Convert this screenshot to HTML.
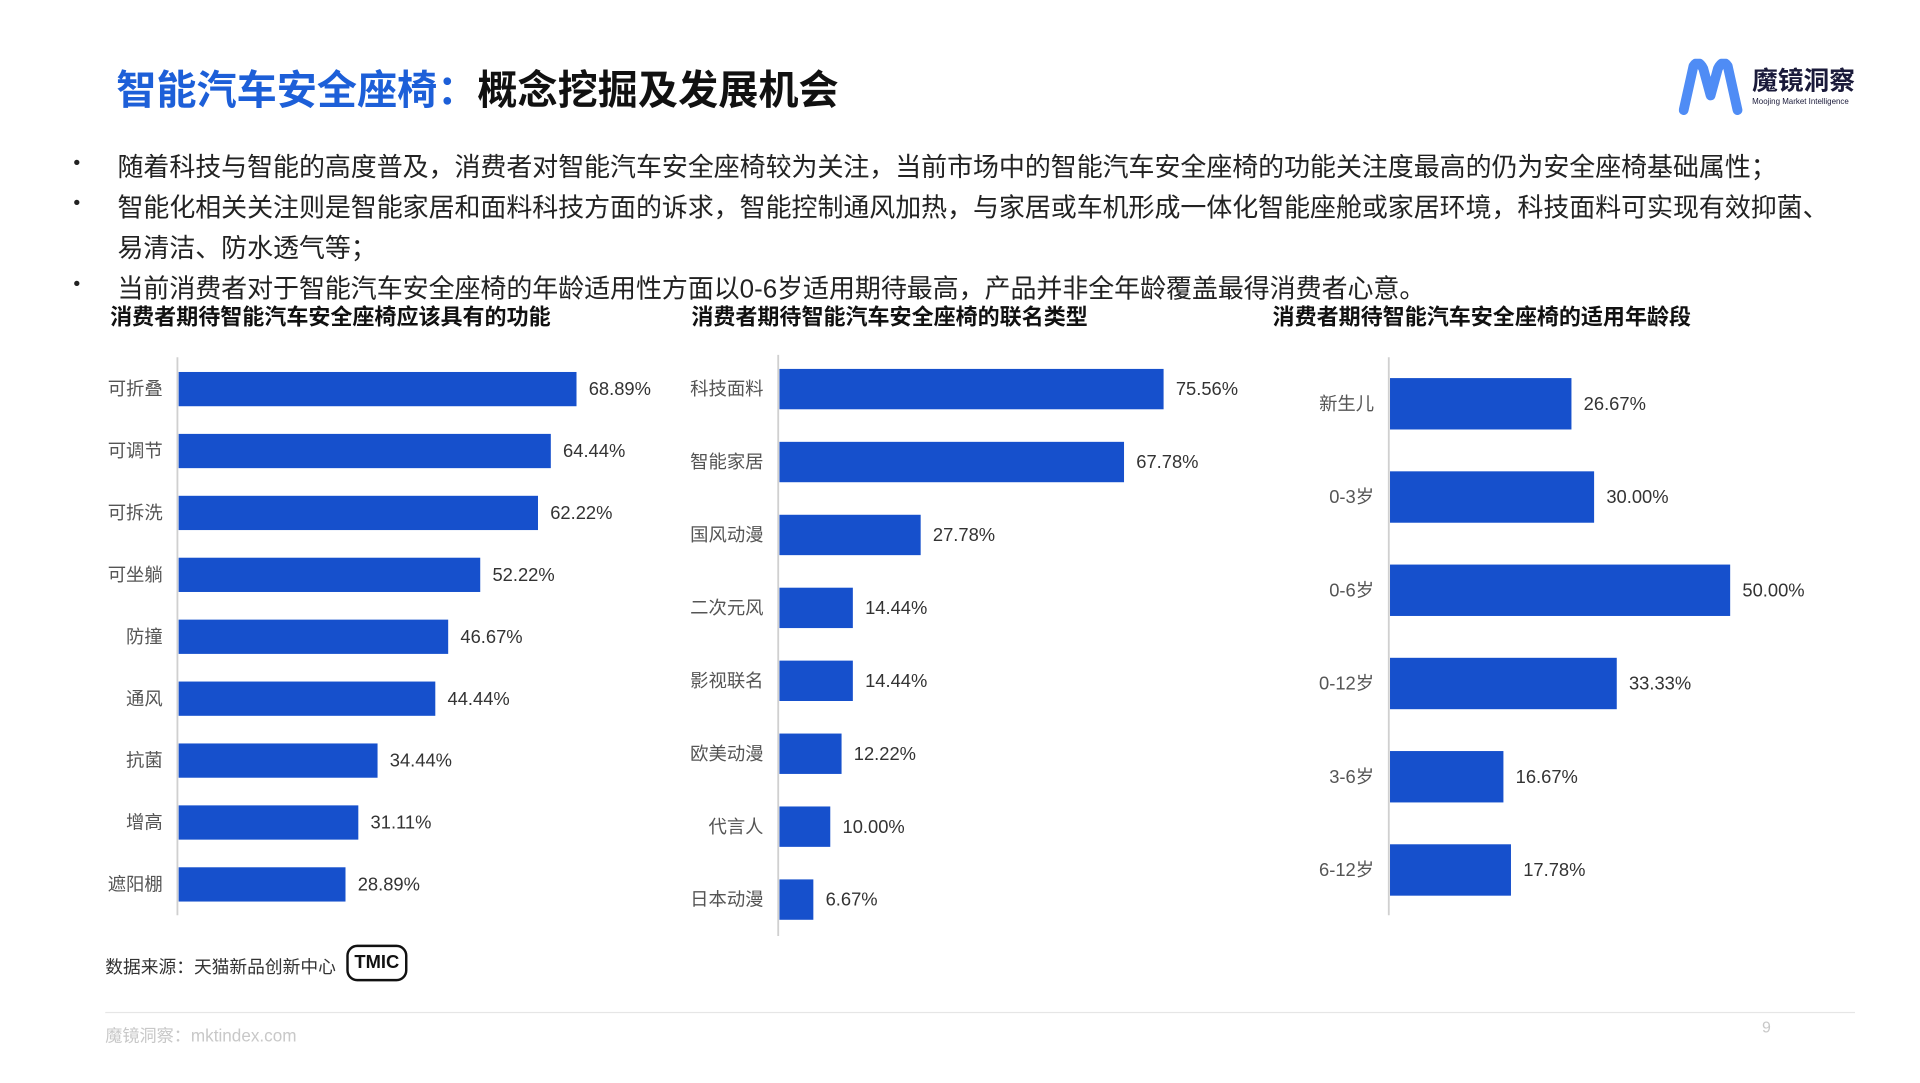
<!DOCTYPE html>
<html><head><meta charset="utf-8">
<style>
*{margin:0;padding:0;box-sizing:border-box}
html,body{width:1920px;height:1080px;overflow:hidden;background:#fff}
body{font-family:"Liberation Sans","Noto Sans CJK SC",sans-serif;color:#222}
#wrap{position:absolute;left:0;top:0;width:1570px;height:885px;transform:scale(1.2236);transform-origin:0 0}
.abs{position:absolute;white-space:nowrap}
.title{left:95px;top:48px;font-size:32.8px;font-weight:bold}
.bul{font-size:21.2px;color:#222}
.dot{font-size:16px}
.ct{font-size:18px;font-weight:bold;top:245px;color:#111}
svg text{font-family:"Liberation Sans","Noto Sans CJK SC",sans-serif}
</style></head><body>
<div id="wrap">
<div class="abs title"><span style="color:#1d5fd8">智能汽车安全座椅：</span><span style="color:#111">概念挖掘及发展机会</span></div>
<div class="abs" style="left:1372px;top:48px">
<svg width="150" height="46"><path d="M4 42 L12 6 Q16 0 20 8 L26 30 L32 8 Q36 0 40 6 L48 42" fill="none" stroke="#4f8cf5" stroke-width="8" stroke-linecap="round" stroke-linejoin="round"/>
<text x="60" y="25" font-size="21" font-weight="bold" fill="#1a1a3a">魔镜洞察</text>
<text x="60" y="37" font-size="6.5" fill="#1a1a3a">Moojing Market Intelligence</text></svg></div>
<div class="abs dot" style="left:60px;top:125px">•</div>
<div class="abs bul" style="left:96px;top:120px">随着科技与智能的高度普及，消费者对智能汽车安全座椅较为关注，当前市场中的智能汽车安全座椅的功能关注度最高的仍为安全座椅基础属性；</div>
<div class="abs dot" style="left:60px;top:158px">•</div>
<div class="abs bul" style="left:96px;top:153px">智能化相关关注则是智能家居和面料科技方面的诉求，智能控制通风加热，与家居或车机形成一体化智能座舱或家居环境，科技面料可实现有效抑菌、</div>
<div class="abs bul" style="left:96px;top:186px">易清洁、防水透气等；</div>
<div class="abs dot" style="left:60px;top:224px">•</div>
<div class="abs bul" style="left:96px;top:219px">当前消费者对于智能汽车安全座椅的年龄适用性方面以0-6岁适用期待最高，产品并非全年龄覆盖最得消费者心意。</div>
<div class="abs ct" style="left:90px">消费者期待智能汽车安全座椅应该具有的功能</div>
<div class="abs ct" style="left:565px">消费者期待智能汽车安全座椅的联名类型</div>
<div class="abs ct" style="left:1040px">消费者期待智能汽车安全座椅的适用年龄段</div>
<svg class="abs" id="charts" style="left:0;top:0" width="1570" height="885"></svg>
<div class="abs" style="left:86px;top:779px;font-size:14.5px;color:#333">数据来源：天猫新品创新中心</div>
<div class="abs" style="left:283px;top:772px;width:50px;height:30px;border:2.5px solid #111;border-radius:9px;font-size:15px;font-weight:bold;text-align:center;line-height:26px;color:#111">TMIC</div>
<div class="abs" style="left:86px;top:827px;width:1430px;height:1px;background:#e6e6e6"></div>
<div class="abs" style="left:86px;top:836px;font-size:14px;color:#c8c8c8">魔镜洞察：mktindex.com</div>
<div class="abs" style="left:1440px;top:832px;font-size:13px;color:#c8c8c8">9</div>
</div>
<script>
const c1Cats=["可折叠","可调节","可拆洗","可坐躺","防撞","通风","抗菌","增高","遮阳棚"];
const c1Vals=[68.89,64.44,62.22,52.22,46.67,44.44,34.44,31.11,28.89];
const c2Cats=["科技面料","智能家居","国风动漫","二次元风","影视联名","欧美动漫","代言人","日本动漫"];
const c2Vals=[75.56,67.78,27.78,14.44,14.44,12.22,10.00,6.67];
const c3Cats=["新生儿","0-3岁","0-6岁","0-12岁","3-6岁","6-12岁"];
const c3Vals=[26.67,30.00,50.00,33.33,16.67,17.78];
const NS="http://www.w3.org/2000/svg";
const svg=document.getElementById('charts');
function mk(t,a){const e=document.createElementNS(NS,t);for(const k in a)e.setAttribute(k,a[k]);svg.appendChild(e);return e;}
function chart(id,cats,vals,ax,y0,y1,first,step,bh,ppu){
  const axis=mk('line',{x1:ax,x2:ax,y1:y0,y2:y1,stroke:'#d0d0d0','stroke-width':1.5});
  
  
  cats.forEach((c,i)=>{
    const cy=first+i*step, w=vals[i]*ppu;
    const r=mk('rect',{x:ax+1,y:cy-bh/2,width:w,height:bh,fill:'#1650cc'});
    
    
    const l=mk('text',{x:ax-12,y:cy+5,'text-anchor':'end','font-size':15,fill:'#555'});
    l.textContent=c;
    
    
    const v=mk('text',{x:ax+w+11,y:cy+5,'font-size':15,fill:'#333'});
    v.textContent=vals[i].toFixed(2)+'%';
    
    
  });
}
chart('function-chart',c1Cats,c1Vals,145,292,748,318,50.6,28,4.72);
chart('collab-chart',c2Cats,c2Vals,636,290,765,318,59.6,33,4.155);
chart('age-chart',c3Cats,c3Vals,1135,292,748,330,76.2,42,5.56);
</script>
</body></html>
